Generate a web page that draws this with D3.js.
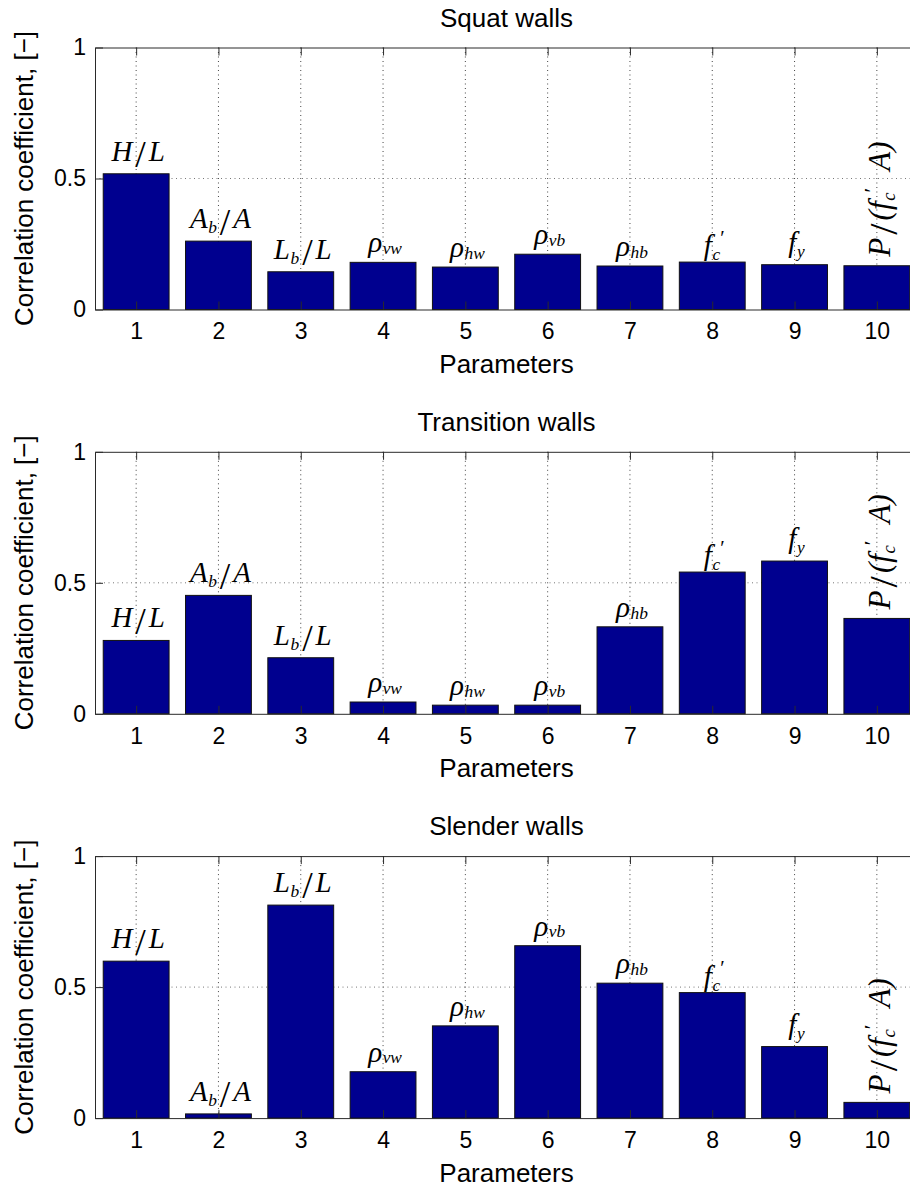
<!DOCTYPE html>
<html>
<head>
<meta charset="utf-8">
<script src="https://cdn.jsdelivr.net/npm/d3@7/dist/d3.min.js"></script>
<style>
  body { margin: 0; background: #fff; }
  svg { display: block; }
</style>
</head>
<body>
<script>
// ---------------- data ----------------
const parameters = [1, 2, 3, 4, 5, 6, 7, 8, 9, 10];
const paramLabels = ["H/L", "A_b/A", "L_b/L", "ρ_vw", "ρ_hw", "ρ_vb", "ρ_hb", "f_c'", "f_y", "P/(f_c' A)"];
const panelTitles = ["Squat walls", "Transition walls", "Slender walls"];
const squatValues = [0.518, 0.261, 0.144, 0.180, 0.162, 0.211, 0.166, 0.181, 0.171, 0.167];
const transitionValues = [0.280, 0.452, 0.214, 0.045, 0.033, 0.033, 0.332, 0.541, 0.583, 0.364];
const slenderValues = [0.599, 0.016, 0.813, 0.177, 0.352, 0.658, 0.515, 0.479, 0.273, 0.060];
const yTicks = [0, 0.5, 1];
const xLabelText = "Parameters";
const yLabelText = "Correlation coefficient, [\u2212]";

// ---------------- layout ----------------
const W = 910, H = 1187;
const axLeft = 95, axRight = 918, axH = 262;
const panelTops = [47.5, 451.8, 856.1];
const seriesList = [squatValues, transitionValues, slenderValues];
const LS = 29;   // label font size
const LSR = 31;  // rotated label font size

const svg = d3.select("body").append("svg").attr("width", W).attr("height", H);

const sansFont = "'Liberation Sans', Arial, Helvetica, sans-serif";
const serifFont = "'Liberation Serif', 'Times New Roman', 'DejaVu Serif', serif";

const x = d3.scaleLinear().domain([0.5, 10.5]).range([axLeft, axRight]);
const barW = x(1.4) - x(0.6);

function drawLabel(parent, str, S, anchor) {
  const t = parent.append("text")
    .attr("font-family", serifFont)
    .attr("font-size", S)
    .attr("text-anchor", anchor)
    .attr("fill", "#000");
  const re = /(_[a-z]+)|(')|(\/)|( )|([^_'\/ ]+)/g;
  let m, cur = 0, pendingDx = 0;
  while ((m = re.exec(str)) !== null) {
    let txt, size, shift, italic = true, dx = pendingDx;
    pendingDx = 0;
    if (m[1]) {
      txt = m[1].slice(1); size = S * 0.6; shift = S * 0.17;
      if (str.startsWith("ρ")) shift = S * 0.06;
      dx += S * 0.02;
    } else if (m[2]) {
      txt = "\u2032"; size = S * 0.7; shift = -S * 0.36; italic = false;
    } else if (m[3]) {
      txt = "/"; size = S * 1.3; shift = S * 0.22; italic = false;
      dx += S * 0.1;
      pendingDx = S * 0.1;
    } else if (m[4]) {
      pendingDx = S * 0.55; continue;
    } else {
      txt = m[5]; size = S; shift = 0;
      if (/^[()]+$/.test(txt)) { italic = false; dx += S * 0.05; pendingDx = S * 0.05; }
    }
    const ts = t.append("tspan")
      .attr("font-size", size)
      .attr("font-style", italic ? "italic" : "normal")
      .attr("dy", shift - cur)
      .text(txt);
    if (dx) ts.attr("dx", dx);
    cur = shift;
  }
  return t;
}

function labelOffset(str) {
  if (str.startsWith("ρ")) return 10;
  if (str === "f_c'") return 7;
  return 13;
}

panelTops.forEach((top, pi) => {
  const values = seriesList[pi];
  const y = d3.scaleLinear().domain([0, 1]).range([top + axH, top]);
  const g = svg.append("g");

  // grid
  g.append("g").selectAll("line").data(parameters).join("line")
    .attr("x1", d => x(d)).attr("x2", d => x(d))
    .attr("y1", y(0)).attr("y2", y(1))
    .attr("stroke", "#444").attr("stroke-width", 1)
    .attr("stroke-dasharray", "1,3.5");
  g.append("g").selectAll("line").data(yTicks.filter(v => v > 0 && v < 1)).join("line")
    .attr("x1", axLeft).attr("x2", axRight)
    .attr("y1", d => y(d)).attr("y2", d => y(d))
    .attr("stroke", "#777").attr("stroke-width", 1)
    .attr("stroke-dasharray", "1,3.5");

  // bars
  g.append("g").selectAll("rect").data(values).join("rect")
    .attr("x", (d, i) => x(parameters[i]) - barW / 2)
    .attr("y", d => y(d))
    .attr("width", barW)
    .attr("height", d => y(0) - y(d))
    .attr("fill", "#00008F")
    .attr("stroke", "#111")
    .attr("stroke-width", 1);

  // bar labels
  values.forEach((v, i) => {
    const str = paramLabels[i];
    const cx = x(parameters[i]);
    if (i === 9) {
      const lg = g.append("g").attr("transform", `translate(${cx + 13},${y(v) - 9}) rotate(-90)`);
      drawLabel(lg, str, LSR, "start");
    } else {
      const lg = g.append("g").attr("transform", `translate(${cx + 2},${y(v) - labelOffset(str)})`);
      drawLabel(lg, str, LS, "middle");
    }
  });

  // axes
  const axisStyle = sel => {
    sel.selectAll("path.domain").attr("stroke", "#2a2a2a").attr("stroke-width", 1);
    sel.selectAll(".tick line").attr("stroke", "#2a2a2a").attr("stroke-width", 1);
    sel.selectAll("text").attr("font-family", sansFont).attr("font-size", 23).attr("fill", "#000");
  };
  g.append("g").attr("transform", `translate(0,${y(0)})`)
    .call(d3.axisBottom(x).tickValues(parameters).tickSizeInner(-8).tickSizeOuter(0).tickPadding(13.5))
    .call(axisStyle);
  g.append("g").attr("transform", `translate(0,${y(1)})`)
    .call(d3.axisTop(x).tickValues(parameters).tickSizeInner(-8).tickSizeOuter(0).tickFormat(""))
    .call(axisStyle);
  g.append("g").attr("transform", `translate(${axLeft},0)`)
    .call(d3.axisLeft(y).tickValues(yTicks).tickSizeInner(-8).tickSizeOuter(0).tickPadding(9).tickFormat(d3.format("")))
    .call(axisStyle);
  g.append("g").attr("transform", `translate(${axRight},0)`)
    .call(d3.axisRight(y).tickValues(yTicks).tickSizeInner(-8).tickSizeOuter(0).tickFormat(""))
    .call(axisStyle);

  // title
  g.append("text")
    .attr("x", (axLeft + axRight) / 2).attr("y", top - 21)
    .attr("text-anchor", "middle")
    .attr("font-family", sansFont).attr("font-size", 26).attr("fill", "#000")
    .text(panelTitles[pi]);

  // x label
  g.append("text")
    .attr("x", (axLeft + axRight) / 2).attr("y", top + axH + 63.5)
    .attr("text-anchor", "middle")
    .attr("font-family", sansFont).attr("font-size", 26).attr("fill", "#000")
    .text(xLabelText);

  // y label
  g.append("text")
    .attr("transform", `translate(33,${top + axH / 2}) rotate(-90)`)
    .attr("text-anchor", "middle")
    .attr("font-family", sansFont).attr("font-size", 26).attr("fill", "#000")
    .text(yLabelText);
});
</script>
</body>
</html>
